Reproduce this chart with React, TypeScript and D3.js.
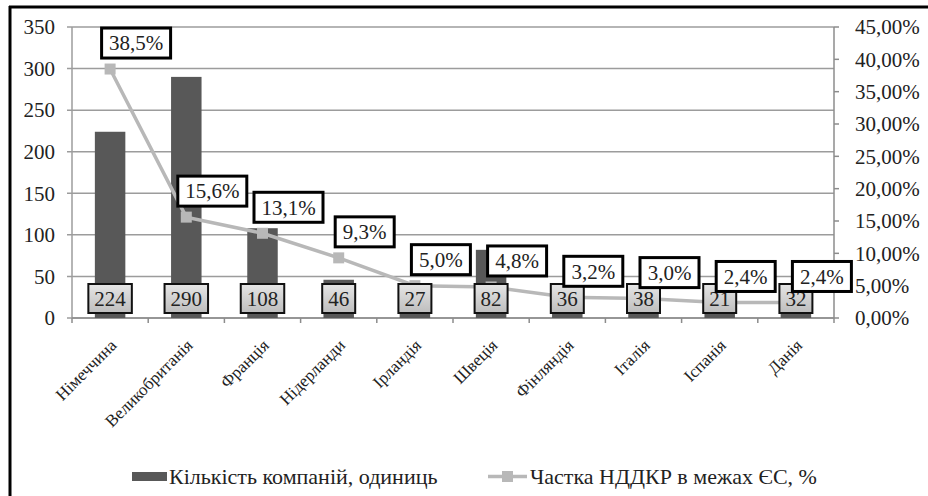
import React from "react";
import * as d3 from "d3";

const categories = [
  "Німеччина",
  "Великобританія",
  "Франція",
  "Нідерланди",
  "Ірландія",
  "Швеція",
  "Фінляндія",
  "Італія",
  "Іспанія",
  "Данія",
];
const companies = [224, 290, 108, 46, 27, 82, 36, 38, 21, 32];
const shares = [38.5, 15.6, 13.1, 9.3, 5.0, 4.8, 3.2, 3.0, 2.4, 2.4];
const leftTicks = [0, 50, 100, 150, 200, 250, 300, 350];
const rightTicks = [0, 5, 10, 15, 20, 25, 30, 35, 40, 45];
const legendLabels = ["Кількість компаній, одиниць", "Частка НДДКР в межах ЄС, %"];

const W = 928;
const H = 496;
const FONT =
  '"Liberation Serif", "Times New Roman", Times, "DejaVu Serif", "Noto Serif", serif';

const App: React.FC = () => {
  const left = 72;
  const right = 834;
  const top = 27;
  const bottom = 318;

  const x = d3
    .scaleBand<string>()
    .domain(categories)
    .range([left, right])
    .paddingInner(0.6)
    .paddingOuter(0.3);
  const yL = d3.scaleLinear().domain([0, 350]).range([bottom, top]);
  const yR = d3.scaleLinear().domain([0, 45]).range([bottom, top]);
  const xc = (c: string) => (x(c) ?? 0) + x.bandwidth() / 2;

  const line = d3
    .line<number>()
    .x((_, i) => xc(categories[i]))
    .y((d) => yR(d));

  const fmtPct = (v: number) => v.toFixed(1).replace(".", ",") + "%";
  const fmtAxis = (v: number) => v.toFixed(2).replace(".", ",") + "%";
  const step = x.step();
  const r0 = x.range()[0];
  const ts: React.CSSProperties = { fontFamily: FONT };

  return (
    <svg
      width={W}
      height={H}
      style={{ position: "absolute", left: 0, top: 0, background: "#fff", fontFamily: FONT }}
    >
      <defs>
        <linearGradient id="boxFill" x1="0" y1="0" x2="0" y2="1">
          <stop offset="0%" stopColor="#e6e6e6" />
          <stop offset="100%" stopColor="#bdbdbd" />
        </linearGradient>
      </defs>
      <rect x={0} y={0} width={W} height={H} fill="#fff" />

      {/* рамка */}
      <line x1={9} x2={W} y1={7} y2={7} stroke="#000" strokeWidth={3} />
      <line x1={10} x2={10} y1={6} y2={H} stroke="#000" strokeWidth={3} />

      {/* сітка */}
      {leftTicks.map((t) => (
        <g key={"g" + t}>
          <line x1={left - 5} x2={right} y1={yL(t)} y2={yL(t)} stroke="#9c9c9c" strokeWidth={1.5} />
          <text x={55} y={yL(t)} dy="0.35em" textAnchor="end" fontSize={21} fill="#222" style={ts}>
            {t}
          </text>
        </g>
      ))}
      {/* ліва вісь */}
      <line x1={left} x2={left} y1={top} y2={bottom} stroke="#9c9c9c" strokeWidth={1.5} />
      {/* права вісь */}
      <line x1={right} x2={right} y1={top} y2={bottom} stroke="#8c8c8c" strokeWidth={1.5} />
      {rightTicks.map((t) => (
        <g key={"r" + t}>
          <line x1={right} x2={right + 5} y1={yR(t)} y2={yR(t)} stroke="#8c8c8c" strokeWidth={1.5} />
          <text x={855} y={yR(t)} dy="0.35em" fontSize={21} fill="#222" style={ts}>
            {fmtAxis(t)}
          </text>
        </g>
      ))}
      {/* вісь X */}
      <line x1={left} x2={right} y1={bottom} y2={bottom} stroke="#8c8c8c" strokeWidth={1.5} />
      {d3.range(categories.length + 1).map((i) => (
        <line
          key={"xt" + i}
          x1={r0 + i * step}
          x2={r0 + i * step}
          y1={bottom}
          y2={bottom + 5}
          stroke="#8c8c8c"
          strokeWidth={1.5}
        />
      ))}

      {/* стовпці */}
      {categories.map((c, i) => (
        <rect
          key={"b" + c}
          x={x(c)}
          y={yL(companies[i])}
          width={x.bandwidth()}
          height={bottom - yL(companies[i])}
          fill="#585858"
        />
      ))}

      {/* лінія частки */}
      <path d={line(shares) ?? ""} fill="none" stroke="#b8b8b8" strokeWidth={3.5} />
      {shares.map((s, i) => (
        <rect
          key={"m" + i}
          x={xc(categories[i]) - 5.5}
          y={yR(s) - 5.5}
          width={11}
          height={11}
          fill="#b8b8b8"
        />
      ))}

      {/* підписи значень стовпців */}
      {categories.map((c, i) => {
        const txt = String(companies[i]);
        const w = txt.length * 10.5 + 12;
        return (
          <g key={"vl" + c}>
            <rect
              x={xc(c) - w / 2}
              y={bottom - 34}
              width={w}
              height={29}
              fill="url(#boxFill)"
              stroke="#111"
              strokeWidth={2}
            />
            <text x={xc(c)} y={bottom - 19.5} dy="0.35em" textAnchor="middle" fontSize={21} fill="#222" style={ts}>
              {txt}
            </text>
          </g>
        );
      })}

      {/* підписи частки */}
      {shares.map((s, i) => {
        const txt = fmtPct(s);
        const w = s >= 10 ? 69 : 59;
        const cx = xc(categories[i]) + 26;
        const by = yR(s) - 11;
        return (
          <g key={"pl" + i}>
            <rect x={cx - w / 2} y={by - 30} width={w} height={30} fill="#fff" stroke="#000" strokeWidth={3} />
            <text x={cx} y={by - 15} dy="0.35em" textAnchor="middle" fontSize={21} fill="#222" style={ts}>
              {txt}
            </text>
          </g>
        );
      })}

      {/* категорії */}
      {categories.map((c) => (
        <text
          key={"c" + c}
          transform={`translate(${xc(c) - 1},${bottom + 20}) rotate(-45)`}
          textAnchor="end"
          dy="0.7em"
          fontSize={17}
          fill="#222"
          style={ts}
        >
          {c}
        </text>
      ))}

      {/* легенда */}
      <rect x={132} y={472} width={35} height={9} fill="#585858" />
      <text x={169} y={484} fontSize={22} fill="#222" style={ts}>
        {legendLabels[0]}
      </text>
      <line x1={488} x2={527} y1={476.5} y2={476.5} stroke="#b8b8b8" strokeWidth={3.5} />
      <rect x={502} y={471} width={11} height={11} fill="#b8b8b8" />
      <text x={530} y={484} fontSize={22} fill="#222" style={ts}>
        {legendLabels[1]}
      </text>
    </svg>
  );
};

export default App;
